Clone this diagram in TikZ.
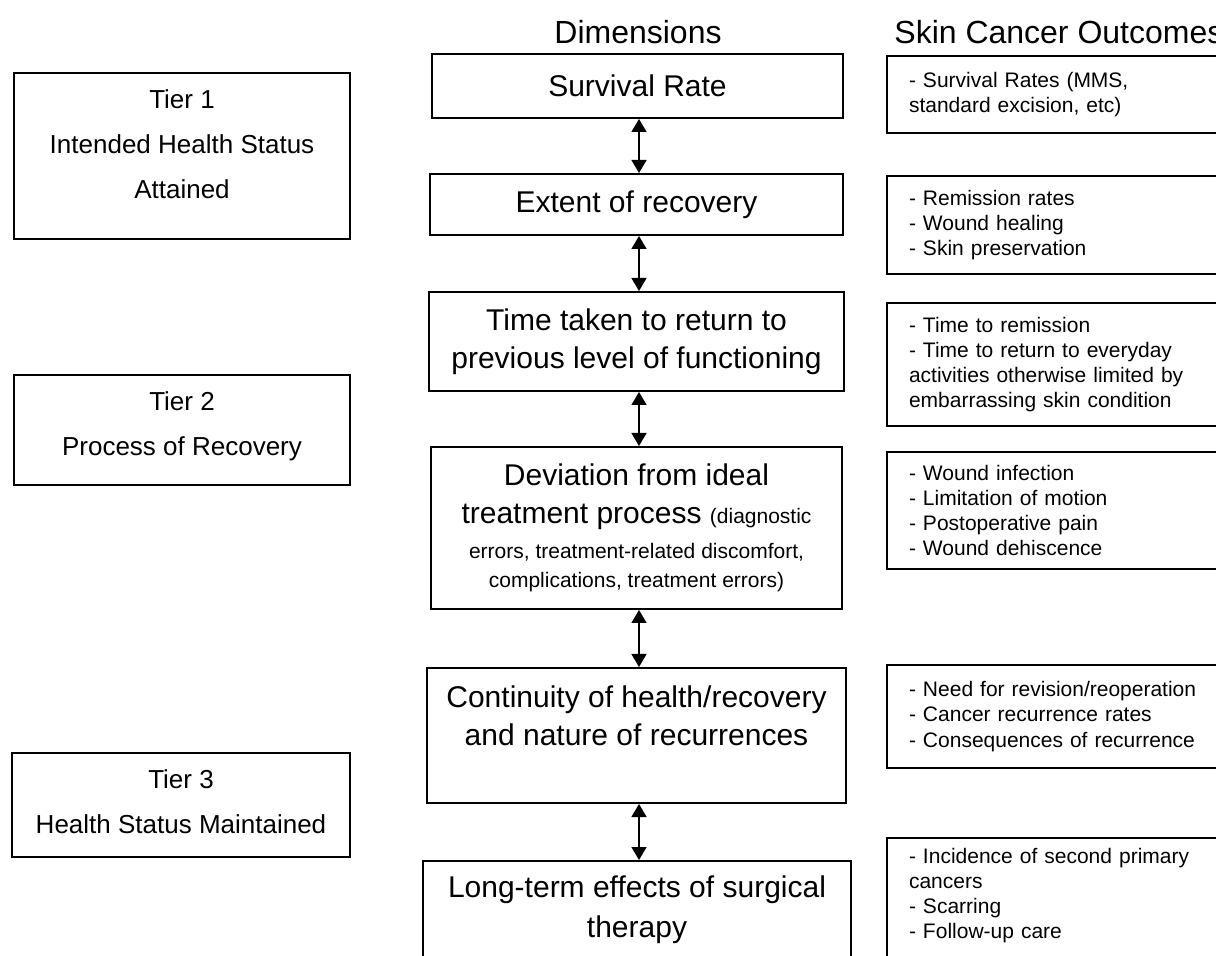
\documentclass[tikz,border=0pt]{standalone}
\usepackage{fontspec}
\setmainfont{Liberation Sans}
\usetikzlibrary{arrows.meta}

\newcommand{\smalltxt}{\fontsize{10.5}{12.6}\selectfont}

\begin{document}
\begin{tikzpicture}[x=0.5pt,y=-0.5pt,
        dimbox/.style={draw, line width=1pt, align=center, inner sep=3pt, font=\fontsize{15}{19}\selectfont},
        tierbox/.style={draw, line width=1pt, align=center, inner sep=0pt, anchor=north, minimum width=168pt, font=\fontsize{13}{22.5}\selectfont},
        outbox/.style={draw, line width=1pt, anchor=north west, inner xsep=11pt, inner ysep=3pt, text width=148pt, align=left, font=\smalltxt},
        heading/.style={inner sep=0pt, font=\fontsize{16}{18}\selectfont},
        link/.style={{Triangle[length=6.5pt,width=7.5pt]}-{Triangle[length=6.5pt,width=7.5pt]}, line width=0.75pt}]
        \useasboundingbox (0,0) rectangle (1216,956);
        \clip (0,0) rectangle (1216,956);

        % column headings
        \node[heading] (dimhead) at (638,32) {Dimensions};
        \node[heading, anchor=west] (outhead) at (894,32) {Skin Cancer Outcomes};

        % tiers (text sits at the top of each box)
        \node[tierbox] (tier1) at (182,72) {\rule{0pt}{18pt}Tier 1\\Intended Health Status\\Attained\rule[-20pt]{0pt}{0pt}};
        \node[tierbox] (tier2) at (182,374) {\rule{0pt}{18pt}Tier 2\\Process of Recovery\rule[-14.5pt]{0pt}{0pt}};
        \node[tierbox, minimum width=169pt] (tier3) at (181,752) {\rule{0pt}{17.5pt}Tier 3\\Health Status Maintained\rule[-12pt]{0pt}{0pt}};

        % dimensions
        \node[dimbox, minimum width=205.5pt, minimum height=32pt] (surv) at (637.5,86) {Survival Rate};
        \node[dimbox, minimum width=206.5pt, minimum height=30.5pt] (ext) at (636.5,204.5) {Extent of recovery};
        \node[dimbox, minimum width=207.5pt, minimum height=49.5pt] (time) at (636.5,341.5) {Time taken to return to\\previous level of functioning};
        \node[dimbox, minimum width=205.5pt, minimum height=81pt] (dev) at (636.5,528) {Deviation from ideal\\treatment process {\smalltxt (diagnostic}\\[-1.5pt]{\smalltxt errors, treatment-related discomfort,}\\[-4.5pt]{\smalltxt complications, treatment errors)}};
        \node[dimbox, minimum width=209.5pt, minimum height=67.5pt] (cont) at (636.5,735.5) {\parbox[c][61.5pt][t]{200pt}{\centering\vspace*{6pt}Continuity of health/recovery\\and nature of recurrences}};
        \node[dimbox, minimum width=214pt, anchor=north] (long) at (637,860) {\parbox[c][60pt][t]{205pt}{\centering\vspace*{4.5pt}Long-term effects of surgical\\[1pt]therapy}};

        % outcomes
        \node[outbox, minimum height=38.5pt] (out1) at (886,55) {- Survival Rates (MMS,\\standard excision, etc)};
        \node[outbox, minimum height=49pt] (out2) at (886,175) {- Remission rates\\- Wound healing\\- Skin preservation};
        \node[outbox, minimum height=61.5pt] (out3) at (886,302) {- Time to remission\\- Time to return to everyday\\activities otherwise limited by\\embarrassing skin condition};
        \node[outbox, minimum height=58.5pt] (out4) at (886,451) {- Wound infection\\- Limitation of motion\\- Postoperative pain\\- Wound dehiscence};
        \node[outbox, minimum height=51.5pt] (out5) at (886,664) {- Need for revision/reoperation\\- Cancer recurrence rates\\- Consequences of recurrence};
        \node[outbox] (out6) at (886,837) {\parbox[c][64pt][t]{148pt}{\raggedright\vspace*{2pt}- Incidence of second primary\\cancers\\- Scarring\\- Follow-up care}};

        % links between dimensions
        \coordinate (axis) at (639,0);
        \foreach \a/\b in {surv/ext, ext/time, time/dev, dev/cont, cont/long}
                \draw[link] (\a.south -| axis) -- (\b.north -| axis);
\end{tikzpicture}
\end{document}
